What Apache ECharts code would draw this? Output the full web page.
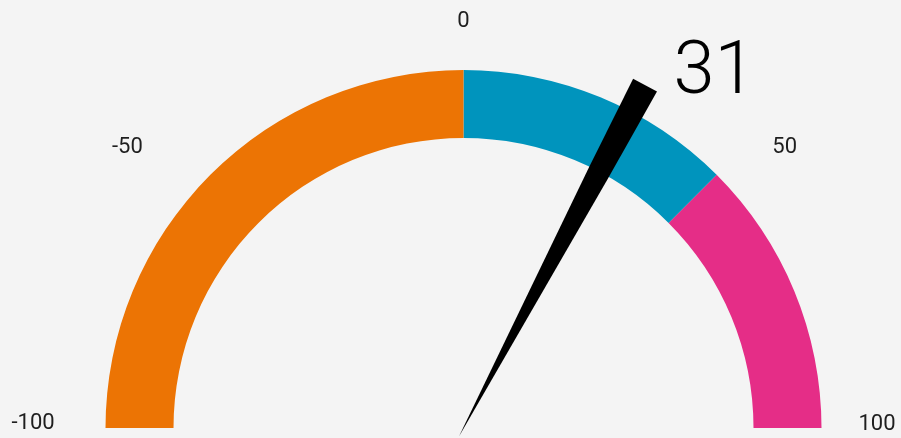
<!DOCTYPE html>
<html>
<head>
<meta charset="utf-8">
<script src="https://cdn.jsdelivr.net/npm/echarts@6/dist/echarts.min.js"></script>
<style>
  html, body { margin: 0; padding: 0; background: #f4f4f4; }
  #chart { width: 901px; height: 438px; }
</style>
</head>
<body>
<div id="chart"></div>
<script>
// Gauge scale
const scaleMin = -100;
const scaleMax = 100;
const tickLabels = [-100, -50, 0, 50, 100];

// Colour bands: each band runs up to the value listed here
const bandEnds = [0, 50, 100];

// Current reading
const reading = 31;

// ---- styling ----
const bandColors = ['#ec7404', '#0094bd', '#e52d87'];
const labelFont = 'Roboto, "Noto Sans", sans-serif';

// Per-label padding [top, right, bottom, left] used to nudge each tick label
const labelPadding = [
  [0, 0, 9, 48],
  [147, 0, 0, 2],
  [82, 0, 0, 0],
  [146, 20, 0, 0],
  [0, 68, 8, 0]
];

const axisColors = bandEnds.map((end, i) => [
  (end - scaleMin) / (scaleMax - scaleMin),
  bandColors[i]
]);

const rich = {};
tickLabels.forEach((v, i) => {
  rich['t' + i] = {
    fontSize: 22,
    fontFamily: labelFont,
    color: '#1e1e1e',
    padding: labelPadding[i]
  };
});

const chart = echarts.init(document.getElementById('chart'), null, { renderer: 'canvas' });

chart.setOption({
  backgroundColor: '#f4f4f4',
  animation: false,
  series: [{
    type: 'gauge',
    center: [463.5, 428],
    radius: 358,
    startAngle: 180,
    endAngle: 0,
    min: scaleMin,
    max: scaleMax,
    splitNumber: tickLabels.length - 1,
    axisLine: {
      roundCap: false,
      lineStyle: { width: 68, color: axisColors }
    },
    axisTick: { show: false },
    splitLine: { show: false, length: 0, distance: 0 },
    axisLabel: {
      show: true,
      distance: -142,
      formatter: function (value) {
        const i = tickLabels.indexOf(value);
        return '{t' + i + '|' + value + '}';
      },
      rich: rich
    },
    pointer: {
      show: true,
      icon: 'path://M0,0 L27,0 L24.5,100 L13.5,398 L2.5,100 Z',
      length: 398,
      width: 27,
      offsetCenter: [0, 10],
      itemStyle: { color: '#000000' }
    },
    anchor: { show: false },
    title: { show: false },
    detail: {
      show: true,
      offsetCenter: [251, -354],
      fontSize: 74,
      fontWeight: 300,
      fontFamily: labelFont,
      color: '#000000',
      formatter: '{value}'
    },
    data: [{ value: reading }]
  }]
});
</script>
</body>
</html>
